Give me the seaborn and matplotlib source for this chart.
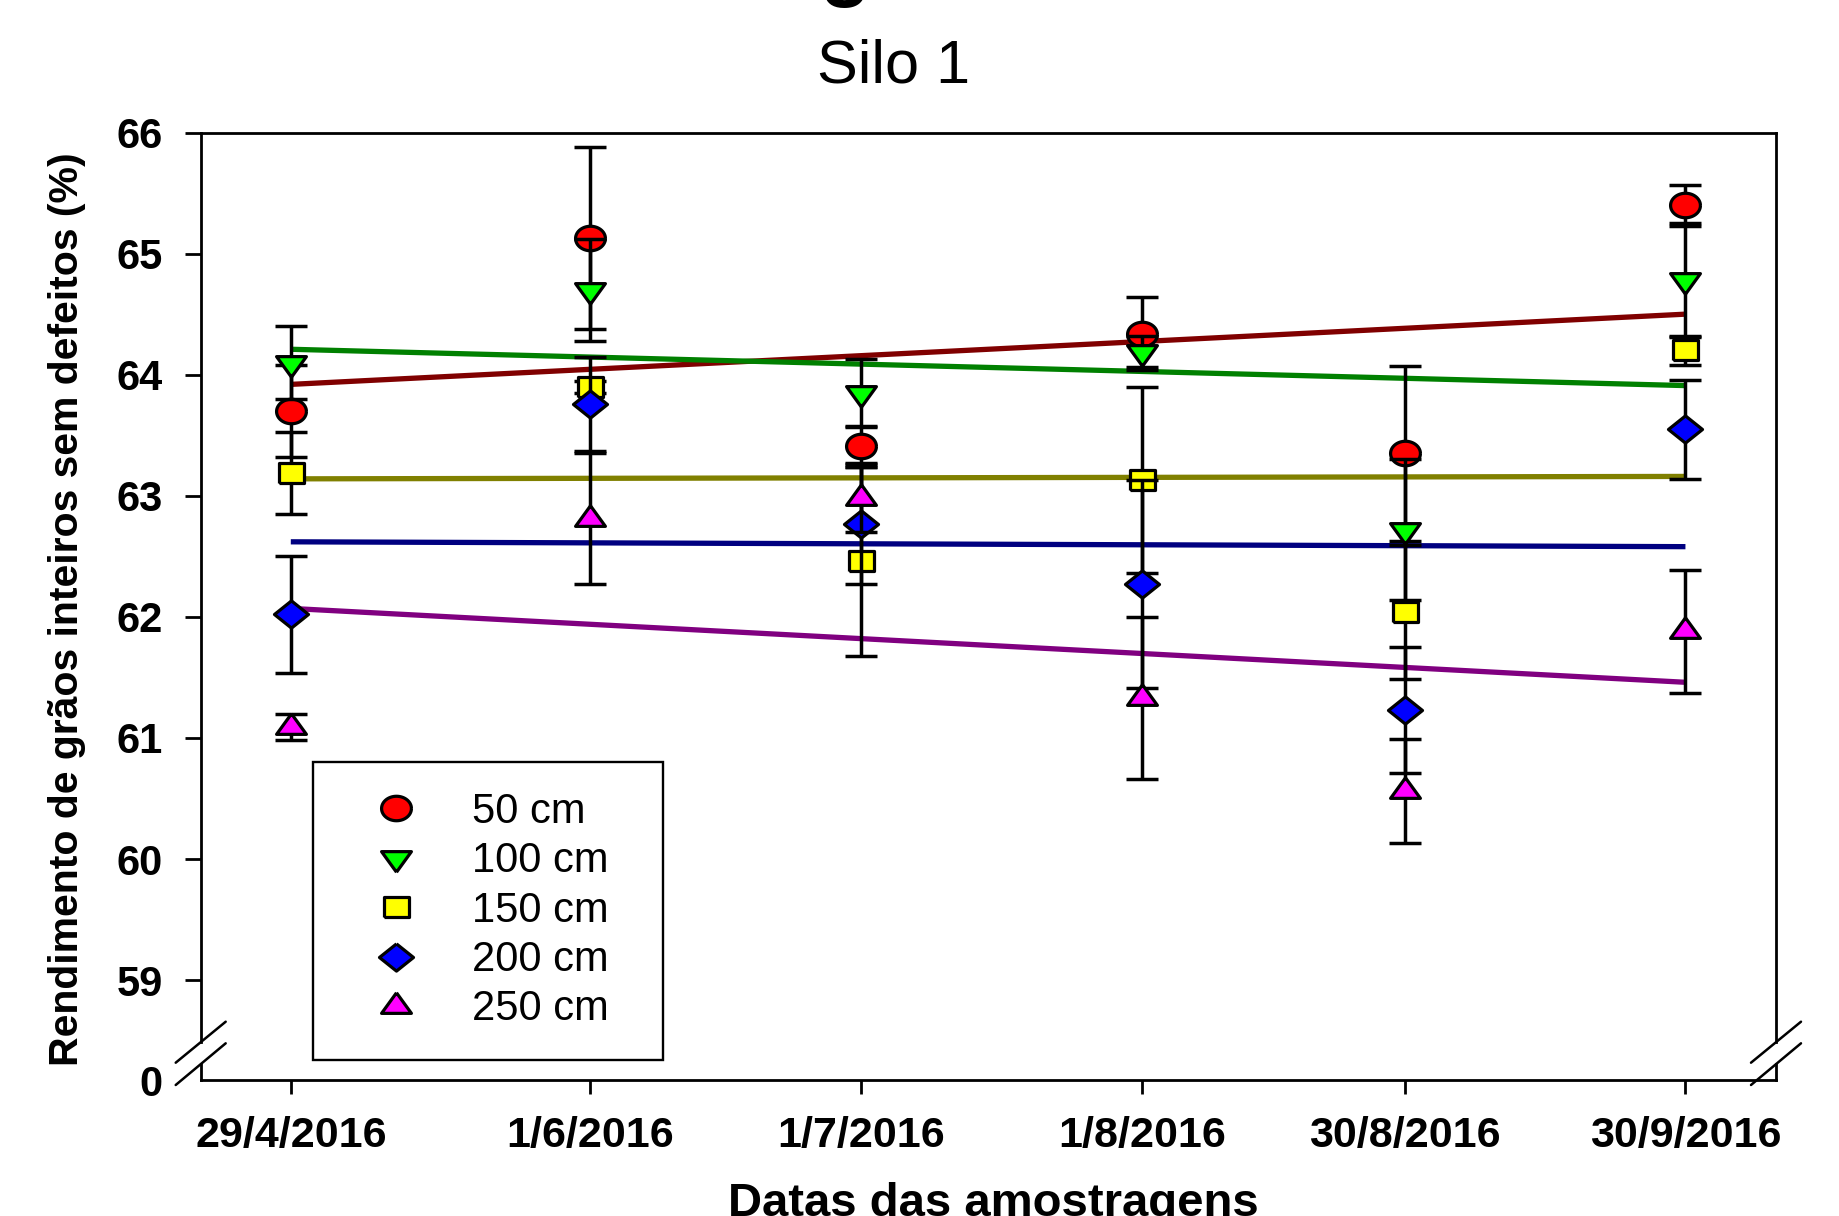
import numpy as np
import pandas as pd
import matplotlib
matplotlib.use("Agg")
import matplotlib.pyplot as plt
from matplotlib.lines import Line2D
from matplotlib.markers import MarkerStyle
import seaborn as sns

# ---------------- data ----------------
dates = ["29/4/2016", "1/6/2016", "1/7/2016", "1/8/2016", "30/8/2016", "30/9/2016"]
depths = ["50 cm", "100 cm", "150 cm", "200 cm", "250 cm"]

mean_50 = [63.70, 65.13, 63.41, 64.34, 63.35, 65.40]
mean_100 = [64.10, 64.70, 63.85, 64.19, 62.72, 64.78]
mean_150 = [63.19, 63.90, 62.46, 63.13, 62.04, 64.20]
mean_200 = [62.02, 63.76, 62.77, 62.27, 61.23, 63.55]
mean_250 = [61.09, 62.81, 62.98, 61.33, 60.56, 61.88]

err_50 = [0.38, 0.75, 0.17, 0.30, 0.72, 0.17]
err_100 = [0.30, 0.42, 0.28, 0.13, 0.58, 0.47]
err_150 = [0.34, 0.05, 0.78, 0.77, 0.55, 0.12]
err_200 = [0.48, 0.39, 0.50, 0.86, 0.52, 0.41]
err_250 = [0.11, 0.54, 0.28, 0.67, 0.43, 0.51]

# linear trend lines: value at first and at last sampling date
trend_start = [63.92, 64.21, 63.14, 62.62, 62.07]
trend_end = [64.50, 63.91, 63.16, 62.58, 61.46]

y_ticks = [59, 60, 61, 62, 63, 64, 65, 66]

means = [mean_50, mean_100, mean_150, mean_200, mean_250]
errs = [err_50, err_100, err_150, err_200, err_250]

# ---------------- styles ----------------
face_colors = ["#FF0000", "#00FF00", "#FFFF00", "#0000FF", "#FF00FF"]
line_colors = ["#800000", "#008000", "#808000", "#000080", "#800080"]
markers = [
    MarkerStyle([(np.cos(t), 0.82 * np.sin(t)) for t in np.linspace(0, 2 * np.pi, 61)]),
    MarkerStyle([(0, -0.92), (1, 0.46), (-1, 0.46), (0, -0.92)]),
    MarkerStyle([(-1, -0.82), (1, -0.82), (1, 0.82), (-1, 0.82), (-1, -0.82)]),
    MarkerStyle([(0, 0.8), (1, 0), (0, -0.8), (-1, 0), (0, 0.8)]),
    MarkerStyle([(0, 0.92), (1, -0.46), (-1, -0.46), (0, 0.92)]),
]
msizes = [21.5, 21.5, 18.0, 24.5, 21.5]

sns.set_style("ticks")
plt.rcParams["font.family"] = ["Liberation Sans", "DejaVu Sans"]
for key in ["text.color", "axes.labelcolor", "xtick.color", "ytick.color",
            "axes.edgecolor"]:
    plt.rcParams[key] = "black"

# x positions from dates
dt = pd.to_datetime(dates, format="%d/%m/%Y")
days = np.array([(d - dt[0]).days for d in dt], dtype=float)

W_PX, H_PX = 1839, 1216
fig = plt.figure(figsize=(W_PX / 100, H_PX / 100), dpi=100)


def fx(px):
    return px / W_PX


def fy(py):
    return 1 - py / H_PX


left_px, right_px = 200.7, 1776.0
top_px, brk_up_px, brk_lo_px, bot_px = 132.5, 1042.2, 1064.2, 1080.0

ax = fig.add_axes([fx(left_px), fy(brk_up_px), fx(right_px) - fx(left_px),
                   (brk_up_px - top_px) / H_PX])
ax2 = fig.add_axes([fx(left_px), fy(bot_px), fx(right_px) - fx(left_px),
                    (bot_px - brk_lo_px) / H_PX])

xlim = (-9.95, 164.0)

# trend lines
for i in range(len(depths)):
    ax.plot([days[0], days[-1]], [trend_start[i], trend_end[i]],
            color=line_colors[i], lw=3.8, solid_capstyle="butt", zorder=2)

# error bars + markers, series by series
for i, dep in enumerate(depths):
    ax.errorbar(days, means[i], yerr=errs[i], fmt="none", ecolor="black",
                elinewidth=2.5, capsize=11.5, capthick=2.5, zorder=3 + 2 * i)
    sns.scatterplot(x=days, y=means[i], ax=ax, marker=markers[i],
                    s=msizes[i] ** 2, color=face_colors[i], edgecolor="black",
                    linewidth=2.3, zorder=4 + 2 * i, legend=False)

# upper axes styling
ax.set_xlim(*xlim)
ax.set_ylim(58.488, 66)
ax.set_yticks(y_ticks, [str(t) for t in y_ticks], fontsize=30, fontweight="bold")
ax.tick_params(axis="y", direction="out", length=11.5, width=2.0, pad=16.0,
               left=True, right=False)
ax.tick_params(axis="x", bottom=False, top=False, labelbottom=False)
ax.spines["bottom"].set_visible(False)
for s in ["left", "right", "top"]:
    ax.spines[s].set_visible(True)
    ax.spines[s].set_linewidth(2.0)
    ax.spines[s].set_color("black")
ax.set_xlabel("")
ax.set_ylabel("")

# lower (broken) axes
ax2.set_xlim(*xlim)
ax2.set_ylim(0, 1)
ax2.set_yticks([0], ["0"], fontsize=30, fontweight="bold")
ax2.tick_params(axis="y", length=0, pad=27.5)
ax2.set_xticks(days, dates, fontsize=31, fontweight="bold")
ax2.tick_params(axis="x", direction="out", length=10, width=2.0, pad=16.0)
ax2.spines["top"].set_visible(False)
for s in ["left", "right", "bottom"]:
    ax2.spines[s].set_visible(True)
    ax2.spines[s].set_linewidth(2.0)
    ax2.spines[s].set_color("black")
ax2.set_facecolor("none")

# axis-break slashes
for cx in (left_px, right_px):
    for (y0, y1) in ((1062.7, 1021.7), (1085.0, 1043.3)):
        fig.add_artist(Line2D([fx(cx - 25), fx(cx + 25)], [fy(y0), fy(y1)],
                              transform=fig.transFigure, color="black", lw=1.8))

# texts
fig.text(fx(893.5), fy(82.7), "Silo 1", ha="center", va="baseline", fontsize=44)
fig.text(fx(845), fy(-9.5), "g", ha="center", va="baseline", fontsize=60,
         fontweight="bold")
fig.text(fx(67), fy(608.7), "Rendimento de grãos inteiros sem defeitos (%)",
         rotation=90, ha="center", va="center", fontsize=29.5, fontweight="bold")
fig.text(fx(993.4), fy(1215.5), "Datas das amostragens", ha="center",
         va="baseline", fontsize=34, fontweight="bold")

# legend
handles = [Line2D([], [], linestyle="none", marker=markers[i],
                  markersize=msizes[i], markerfacecolor=face_colors[i],
                  markeredgecolor="black", markeredgewidth=2.3)
           for i in range(len(depths))]
leg = fig.legend(handles, depths, loc="upper left",
                 bbox_to_anchor=(fx(313), fy(762), fx(662.7) - fx(313), 0),
                 bbox_transform=fig.transFigure, mode="expand",
                 borderaxespad=0, fontsize=30, frameon=True, fancybox=False,
                 framealpha=1, edgecolor="black", borderpad=0.72,
                 handlelength=2.55, handletextpad=0.55, labelspacing=0.225)
leg.get_frame().set_linewidth(1.7)

fig.savefig("out.png", dpi=100)
